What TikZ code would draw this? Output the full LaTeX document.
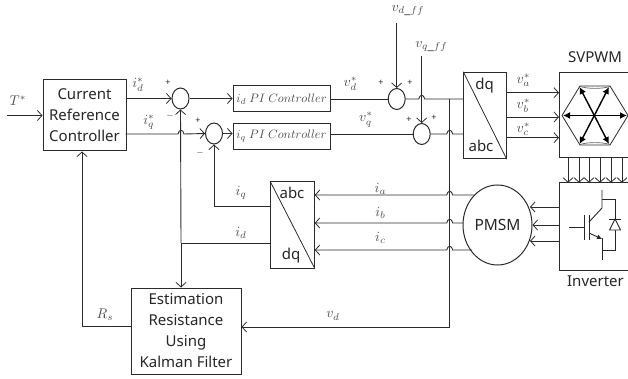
\documentclass[tikz,border=0pt]{standalone}
\usepackage{graphicx}
\usepackage{fontspec}
\setmainfont{Noto Sans}
\usetikzlibrary{arrows.meta,shapes.geometric,calc}
\definecolor{ln}{HTML}{2B2B2B}
\definecolor{lab}{HTML}{4D4D4D}
\newcommand\mlab[1]{\scalebox{1.4}{$#1$}}
\newcommand\pilab[1]{\scalebox{1.22}{$#1$}}
\tikzset{
  box/.style={draw=ln,line width=1pt,inner sep=0pt,align=center,font=\fontsize{15}{21}\selectfont,text=black!85},
  pibox/.style={draw=ln,line width=1pt,minimum width=97pt,minimum height=26pt,inner sep=0pt,text=lab},
  sumc/.style={draw=ln,line width=1pt,ellipse,minimum width=17pt,minimum height=21pt,inner sep=0pt},
  wire/.style={draw=ln,line width=.9pt},
  arr/.style={wire,-{Straight Barb[length=4.5pt,width=10pt,line width=.8pt]}},
  lbl/.style={text=lab,inner sep=0pt},
  sgn/.style={text=black!85,inner sep=0pt,font=\fontsize{9}{10}\selectfont},
  txt/.style={text=black!85,inner sep=0pt,font=\fontsize{15}{21}\selectfont},
  vec/.style={draw=black,line width=1.4pt,-{Latex[length=7pt,width=7pt]}},
  thin/.style={draw=ln,line width=.8pt},
}
\begin{document}
\begin{tikzpicture}[x=1pt,y=-1pt]
\useasboundingbox (0,0) rectangle (628,379);
% blocks
\node[box,minimum width=83pt,minimum height=71pt] (cur) at (84.5,115.5) {Current\\Reference\\Controller};
\node[box,minimum width=110pt,minimum height=86pt] (kf) at (186,331) {Estimation\\Resistance\\Using\\Kalman Filter};
\node[pibox] (pid) at (281.5,99) {\pilab{i_d\ PI\ Controller}};
\node[pibox] (piq) at (281.5,136.5) {\pilab{i_q\ PI\ Controller}};
\node[sumc] (s1) at (180.5,98.5) {};
\node[sumc] (s2) at (214,133.5) {};
\node[sumc] (s3) at (396.7,99) {};
\node[sumc] (s4) at (421.7,134) {};
\node[draw=ln,line width=1pt,minimum width=42.5pt,minimum height=86.5pt,inner sep=0pt] (dqa) at (485,115.5) {};
\draw[thin] (dqa.north west) -- (dqa.south east);
\node[txt] (dqt) at (484.5,86) {dq};
\node[txt] (abct) at (481,146) {abc};
\node[draw=ln,line width=1pt,minimum width=43.5pt,minimum height=86pt,inner sep=0pt] (abd) at (292.5,225) {};
\draw[thin] (abd.north west) -- (abd.south east);
\node[txt] (abct2) at (292,193) {abc};
\node[txt] (dqt2) at (291,256) {dq};
\node[draw=ln,line width=1pt,ellipse,minimum width=69pt,minimum height=80pt,inner sep=0pt,font=\fontsize{15.5}{18}\selectfont,text=black!85] (pm) at (497.5,225) {PMSM};
% right-hand boxes run off the picture edge
\draw[ln,line width=1pt] (628,72.5) -- (559,72.5) -- (559,158) -- (628,158);
\draw[ln,line width=1pt] (628,182.7) -- (559.5,182.7) -- (559.5,270) -- (628,270);
\node[txt] (svt) at (595,57) {SVPWM};
\node[txt] (invt) at (595.5,281) {Inverter};
% named free ends
\coordinate (tin) at (7,115.5);
\coordinate (vdf) at (396.7,23);
\coordinate (vqf) at (421.7,56);
\coordinate (j1) at (181,243);
\coordinate (j2) at (449.7,99);
\coordinate (c2) at (214,206);
\coordinate (c3) at (449.7,327);
\coordinate (c4) at (82,326);
% left part
\draw[arr] (tin) -- (cur.west |- tin);
\draw[arr] (cur.east |- s1) -- (s1.west);
\draw[arr] (s1.east) -- (pid.west |- s1);
\draw[arr] (125.5,134) -- (178,134) .. controls (179,129) and (183,129) .. (184,134) -- (s2.west);
\draw[arr] (s2.east) -- (piq.west |- s2);
\draw[arr] (j1) -- (s1.south);
\draw[arr] (j1) -- (kf.north -| j1);
\draw[wire] (abd.west |- j1) -- (j1);
\draw[arr] (abd.west |- c2) -- (c2) -- (s2.south);
\draw[arr] (kf.west |- c4) -- (c4) -- (c4 |- cur.south);
% feedforward / dq
\draw[arr] (vdf) -- (s3.north);
\draw[arr] (vqf) -- (s4.north);
\draw[wire] (pid.east |- s3) -- (s3.west);
\draw[wire] (s3.east) -- (418.7,99) .. controls (419.7,94) and (423.7,94) .. (424.7,99) -- (dqa.west |- s3);
\draw[wire] (piq.east |- s4) -- (s4.west);
\draw[wire] (s4.east) -- (446.7,134) .. controls (447.7,129) and (451.7,129) .. (452.7,134) -- (dqa.west |- s4);
\draw[arr] (j2) -- (c3) -- (kf.east |- c3);
% phase currents
\draw[arr] (475,195) -- (452.7,195) .. controls (451.7,190) and (447.7,190) .. (446.7,195) -- (abd.east |- 0,195);
\draw[arr] (463,223) -- (452.7,223) .. controls (451.7,218) and (447.7,218) .. (446.7,223) -- (abd.east |- 0,223);
\draw[arr] (472,250) -- (452.7,250) .. controls (451.7,245) and (447.7,245) .. (446.7,250) -- (abd.east |- 0,250);
% dq-abc to SVPWM, SVPWM to inverter, inverter to motor
\foreach \y in {92.7,117,137.7} \draw[arr] (dqa.east |- 0,\y) -- (559,\y);
\foreach \x in {568,579,589,600,611,622} \draw[arr] (\x,158) -- (\x,182.7);
\draw[arr] (559.5,207) -- (530,207);
\draw[arr] (559.5,225) -- (pm.east);
\draw[arr] (559.5,241) -- (530,241);
% SVPWM hexagon
\coordinate (hc) at (594.3,115.5);
\draw[ln,line width=.8pt] (562,115.5) -- (580,86) -- (610,86) -- (628,115.5) -- (610,145) -- (580,145) -- cycle;
\draw[black!60,line width=.7pt] (580,86.5) .. controls (588,89) and (602,89) .. (610,86.5);
\draw[black!60,line width=.7pt] (580,144.5) .. controls (588,142) and (602,142) .. (610,144.5);
\foreach \px/\py in {563/115.5,627/115.5,579.5/87,609/87,579.5/144,609/144} \draw[vec] (hc) -- (\px,\py);
% IGBT and diode
\draw[black!85,line width=.9pt] (569,227) -- (584,227) (584,215) -- (584,240) (589,215) -- (589,240);
\draw[black!85,line width=.9pt] (589,222) -- (602,208) -- (602,190);
\draw[black!85,line width=.9pt,-{Latex[length=5pt,width=5pt]}] (589,233) -- (602,239);
\draw[black!85,line width=.9pt] (602,238) -- (602,260);
\draw[black!85,line width=.9pt] (602,199) -- (615,199) -- (615,250) -- (602,250);
\draw[black!85,line width=.9pt,fill=white] (615,219) -- (609.5,230) -- (620.5,230) -- cycle;
\draw[black!85,line width=.9pt] (609,219) -- (621,219);
% labels
\node[lbl] (lt) at (18,101) {\mlab{T^{*}}};
\node[lbl] (lid) at (138,85) {\mlab{i_d^{*}}};
\node[lbl] (liq) at (149,122) {\mlab{i_q^{*}}};
\node[lbl] (lvd) at (350.5,84) {\mlab{v_d^{*}}};
\node[lbl] (lvq) at (366,119.5) {\mlab{v_q^{*}}};
\node[lbl] (lvdf) at (408,11) {\mlab{v_{d\_ff}}};
\node[lbl] (lvqf) at (431.5,47) {\mlab{v_{q\_ff}}};
\node[lbl] (lva) at (523.5,80) {\mlab{v_a^{*}}};
\node[lbl] (lvb) at (523.5,106) {\mlab{v_b^{*}}};
\node[lbl] (lvc) at (523.5,129) {\mlab{v_c^{*}}};
\node[lbl] (lia) at (380.5,189) {\mlab{i_a}};
\node[lbl] (lib) at (380.5,213) {\mlab{i_b}};
\node[lbl] (lic) at (380.5,238) {\mlab{i_c}};
\node[lbl] (liq2) at (241,193) {\mlab{i_q}};
\node[lbl] (lid2) at (241,233) {\mlab{i_d}};
\node[lbl] (lrs) at (105,315) {\mlab{R_s}};
\node[lbl] (lvd2) at (333,316) {\mlab{v_d}};
\node[sgn] (p1) at (168,83) {+};
\node[sgn] (m1) at (170,116) {$-$};
\node[sgn] (p2) at (198,121) {+};
\node[sgn] (m2) at (200,153) {$-$};
\node[sgn] (p3) at (381,83) {+};
\node[sgn] (p4) at (410,83) {+};
\node[sgn] (p5) at (409,120) {+};
\node[sgn] (p6) at (434,118) {+};
\end{tikzpicture}
\end{document}
